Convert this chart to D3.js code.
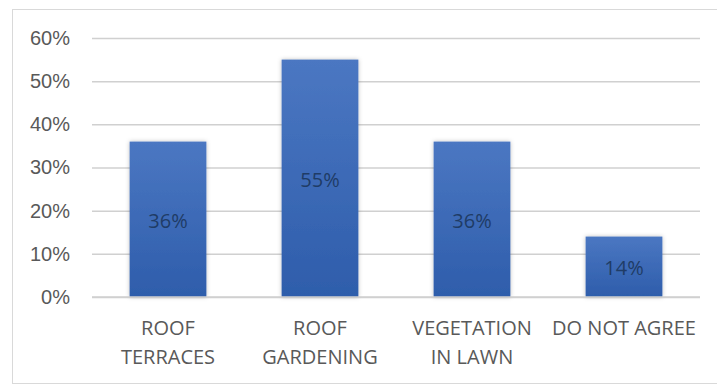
<!DOCTYPE html>
<html>
<head>
<meta charset="utf-8">
<script src="https://cdn.jsdelivr.net/npm/d3@7"></script>
<style>
  body { margin: 0; background: #fff; }
  svg { display: block; font-family: "Open Sans", "Noto Sans", sans-serif; }
</style>
</head>
<body>
<div id="chart"></div>
<script>
const categories = [["ROOF", "TERRACES"], ["ROOF", "GARDENING"], ["VEGETATION", "IN LAWN"], ["DO NOT AGREE"]];
const values = [0.36, 0.55, 0.36, 0.14];
const yTicks = [0, 0.1, 0.2, 0.3, 0.4, 0.5, 0.6];

const W = 717, H = 385;
const margin = { top: 38, right: 17, bottom: 88, left: 92 };
const width = W - margin.left - margin.right;
const height = H - margin.top - margin.bottom;

const svgRoot = d3.select("#chart").append("svg")
  .attr("width", W).attr("height", H);

const defs = svgRoot.append("defs");
const grad = defs.append("linearGradient")
  .attr("id", "barGrad").attr("x1", 0).attr("y1", 0).attr("x2", 0).attr("y2", 1);
grad.append("stop").attr("offset", "0%").attr("stop-color", "#4b77c2");
grad.append("stop").attr("offset", "100%").attr("stop-color", "#2e5dab");

const shadow = defs.append("filter").attr("id", "shadow")
  .attr("x", "-20%").attr("y", "-20%").attr("width", "140%").attr("height", "140%");
shadow.append("feDropShadow").attr("dx", 0).attr("dy", 0).attr("stdDeviation", 2)
  .attr("flood-color", "#000").attr("flood-opacity", 0.25);

// outer border
svgRoot.append("rect")
  .attr("x", 12.5).attr("y", 9.5).attr("width", W - 10).attr("height", H - 11)
  .attr("fill", "none").attr("stroke", "#d9d9d9");

const svg = svgRoot.append("g").attr("transform", `translate(${margin.left},${margin.top})`);

const x = d3.scaleBand().domain(d3.range(categories.length)).range([0, width]).paddingInner(0.495).paddingOuter(0.2475);
const y = d3.scaleLinear().domain([0, 0.6]).range([height, 0]);

// gridlines
svg.append("g")
  .call(d3.axisLeft(y).tickValues(yTicks).tickSize(-width).tickFormat(""))
  .call(g => g.select(".domain").remove())
  .call(g => g.selectAll("line").attr("stroke", "#d0d0d0").attr("stroke-width", 1.5));

// y tick labels
svg.append("g")
  .call(d3.axisLeft(y).tickValues(yTicks).tickSize(0).tickPadding(22).tickFormat(d3.format(".0%")))
  .call(g => g.select(".domain").remove())
  .call(g => g.selectAll("text").attr("fill", "#595959").style("font-size", "20px"));

// bars
svg.selectAll(".bar")
  .data(values)
  .enter().append("rect")
  .attr("class", "bar")
  .attr("x", (d, i) => x(i))
  .attr("width", x.bandwidth())
  .attr("y", d => y(d))
  .attr("height", d => height - y(d))
  .attr("fill", "url(#barGrad)")
  .attr("filter", "url(#shadow)");

// value labels
svg.selectAll(".val")
  .data(values)
  .enter().append("text")
  .attr("class", "val")
  .attr("x", (d, i) => x(i) + x.bandwidth() / 2)
  .attr("y", d => (y(d) + height) / 2 + 3)
  .attr("text-anchor", "middle")
  .attr("dominant-baseline", "middle")
  .attr("fill", "#1f3c66")
  .style("font-size", "20px")
  .text(d => d3.format(".0%")(d));

// x axis baseline
svg.append("line")
  .attr("x1", 0).attr("x2", width).attr("y1", height).attr("y2", height)
  .attr("stroke", "#d0d0d0").attr("stroke-width", 1.5);

// category labels
const cat = svg.selectAll(".cat")
  .data(categories)
  .enter().append("text")
  .attr("class", "cat")
  .attr("x", (d, i) => x(i) + x.bandwidth() / 2)
  .attr("y", height + 38)
  .attr("text-anchor", "middle")
  .attr("fill", "#595959")
  .style("font-size", "20px");

cat.selectAll("tspan")
  .data(d => d)
  .enter().append("tspan")
  .attr("x", function() { return d3.select(this.parentNode).attr("x"); })
  .attr("dy", (d, i) => i === 0 ? 0 : 29)
  .text(d => d);
</script>
</body>
</html>
